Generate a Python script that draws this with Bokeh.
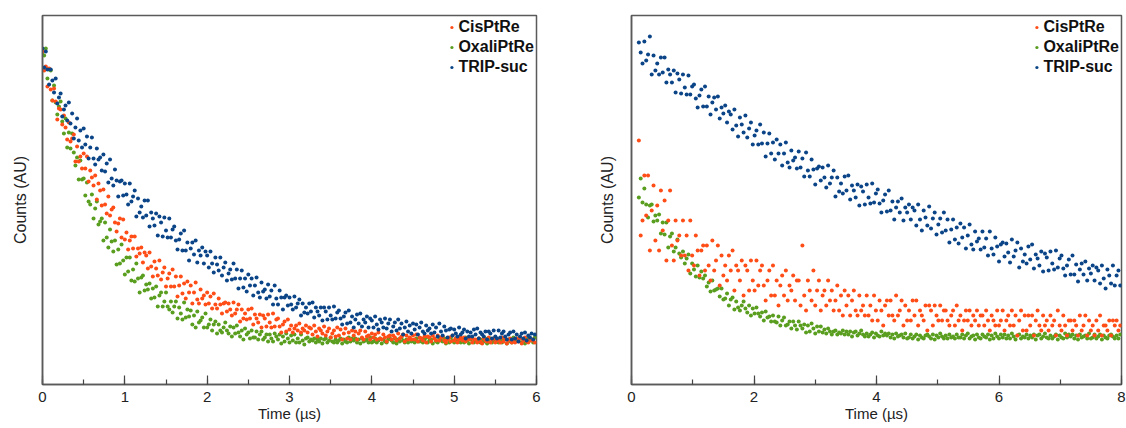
from bokeh.plotting import figure
from bokeh.layouts import row
from bokeh.models import Range1d, FixedTicker, SingleIntervalTicker, Legend, LegendItem
from bokeh.embed import file_html
from bokeh.resources import INLINE

# ------------- data: decay traces, counts in arbitrary units (baseline = 0) -------------
SERIES = ["CisPtRe", "OxaliPtRe", "TRIP-suc"]

# left panel, time (µs)
T_L = [0.00, 0.02, 0.04, 0.06, 0.08, 0.10, 0.12, 0.14, 0.16, 0.18,
       0.20, 0.22, 0.24, 0.26, 0.28, 0.30, 0.32, 0.34, 0.36, 0.38,
       0.40, 0.42, 0.44, 0.46, 0.48, 0.50, 0.52, 0.54, 0.56, 0.58,
       0.60, 0.62, 0.64, 0.66, 0.68, 0.70, 0.72, 0.74, 0.76, 0.78,
       0.80, 0.82, 0.84, 0.86, 0.88, 0.90, 0.92, 0.94, 0.96, 0.98,
       1.00, 1.02, 1.04, 1.06, 1.08, 1.10, 1.12, 1.14, 1.16, 1.18,
       1.20, 1.22, 1.24, 1.26, 1.28, 1.30, 1.32, 1.34, 1.36, 1.38,
       1.40, 1.42, 1.44, 1.46, 1.48, 1.50, 1.52, 1.54, 1.56, 1.58,
       1.60, 1.62, 1.64, 1.66, 1.68, 1.70, 1.72, 1.74, 1.76, 1.78,
       1.80, 1.82, 1.84, 1.86, 1.88, 1.90, 1.92, 1.94, 1.96, 1.98,
       2.00, 2.02, 2.04, 2.06, 2.08, 2.10, 2.12, 2.14, 2.16, 2.18,
       2.20, 2.22, 2.24, 2.26, 2.28, 2.30, 2.32, 2.34, 2.36, 2.38,
       2.40, 2.42, 2.44, 2.46, 2.48, 2.50, 2.52, 2.54, 2.56, 2.58,
       2.60, 2.62, 2.64, 2.66, 2.68, 2.70, 2.72, 2.74, 2.76, 2.78,
       2.80, 2.82, 2.84, 2.86, 2.88, 2.90, 2.92, 2.94, 2.96, 2.98,
       3.00, 3.02, 3.04, 3.06, 3.08, 3.10, 3.12, 3.14, 3.16, 3.18,
       3.20, 3.22, 3.24, 3.26, 3.28, 3.30, 3.32, 3.34, 3.36, 3.38,
       3.40, 3.42, 3.44, 3.46, 3.48, 3.50, 3.52, 3.54, 3.56, 3.58,
       3.60, 3.62, 3.64, 3.66, 3.68, 3.70, 3.72, 3.74, 3.76, 3.78,
       3.80, 3.82, 3.84, 3.86, 3.88, 3.90, 3.92, 3.94, 3.96, 3.98,
       4.00, 4.02, 4.04, 4.06, 4.08, 4.10, 4.12, 4.14, 4.16, 4.18,
       4.20, 4.22, 4.24, 4.26, 4.28, 4.30, 4.32, 4.34, 4.36, 4.38,
       4.40, 4.42, 4.44, 4.46, 4.48, 4.50, 4.52, 4.54, 4.56, 4.58,
       4.60, 4.62, 4.64, 4.66, 4.68, 4.70, 4.72, 4.74, 4.76, 4.78,
       4.80, 4.82, 4.84, 4.86, 4.88, 4.90, 4.92, 4.94, 4.96, 4.98,
       5.00, 5.02, 5.04, 5.06, 5.08, 5.10, 5.12, 5.14, 5.16, 5.18,
       5.20, 5.22, 5.24, 5.26, 5.28, 5.30, 5.32, 5.34, 5.36, 5.38,
       5.40, 5.42, 5.44, 5.46, 5.48, 5.50, 5.52, 5.54, 5.56, 5.58,
       5.60, 5.62, 5.64, 5.66, 5.68, 5.70, 5.72, 5.74, 5.76, 5.78,
       5.80, 5.82, 5.84, 5.86, 5.88, 5.90, 5.92, 5.94, 5.96, 5.98]

CIS_L = [290, 271, 275, 255, 273, 252, 241, 253, 240, 222,
         233, 232, 217, 226, 214, 202, 219, 200, 203, 207,
         180, 195, 180, 185, 173, 188, 173, 185, 160, 171,
         164, 156, 166, 142, 158, 151, 136, 152, 137, 128,
         145, 126, 132, 134, 119, 110, 118, 123, 104, 122,
         102, 109, 92, 101, 105, 93, 105, 85, 93, 88,
         94, 79, 89, 86, 73, 89, 75, 65, 80, 73,
         66, 81, 62, 69, 74, 55, 63, 68, 55, 72,
         55, 65, 45, 56, 65, 48, 58, 43, 60, 49,
         56, 38, 49, 59, 42, 38, 52, 43, 46, 37,
         49, 38, 45, 33, 48, 37, 33, 43, 37, 28,
         38, 39, 30, 38, 32, 26, 39, 28, 32, 37,
         20, 32, 23, 28, 22, 32, 23, 33, 17, 27,
         23, 19, 27, 14, 26, 23, 15, 27, 19, 14,
         28, 15, 22, 23, 15, 9, 17, 20, 10, 22,
         12, 16, 9, 13, 16, 11, 18, 9, 13, 11,
         16, 9, 14, 13, 7, 16, 10, 5, 13, 11,
         8, 15, 6, 10, 13, 4, 8, 11, 5, 14,
         6, 12, 2, 8, 13, 3, 9, 2, 11, 6,
         10, 2, 8, 11, 4, 2, 10, 5, 6, 2,
         8, 4, 7, 2, 9, 3, 2, 7, 4, 0,
         5, 6, 2, 6, 4, 1, 8, 3, 5, 7,
         0, 6, 2, 4, 2, 6, 2, 7, 0, 4,
         3, 1, 5, -1, 5, 4, 0, 6, 3, 1,
         6, 1, 4, 5, 1, -1, 2, 4, 0, 6,
         1, 3, -1, 2, 4, 1, 4, 0, 3, 2,
         3, -1, 2, 2, -1, 3, 0, -2, 3, 1,
         0, 4, -1, 2, 3, -1, 1, 2, -1, 4,
         0, 3, -2, 1, 3, -1, 2, -1, 3, 0,
         3, -2, 1, 4, 0, -1, 3, 1, 2, -1]

OXA_L = [287, 286, 293, 263, 272, 271, 241, 256, 239, 227,
         235, 240, 220, 208, 223, 194, 209, 193, 208, 189,
         176, 184, 162, 181, 162, 163, 146, 159, 140, 137,
         147, 123, 133, 140, 117, 120, 123, 101, 119, 104,
         94, 112, 100, 90, 101, 77, 92, 78, 97, 81,
         67, 84, 70, 84, 61, 72, 60, 78, 63, 49,
         64, 66, 51, 57, 52, 58, 43, 53, 44, 55,
         35, 46, 49, 35, 40, 49, 35, 32, 40, 29,
         35, 40, 23, 34, 28, 22, 39, 24, 32, 25,
         31, 17, 26, 14, 30, 19, 21, 24, 14, 28,
         14, 17, 22, 11, 17, 20, 8, 17, 11, 9,
         14, 19, 11, 8, 15, 5, 14, 8, 16, 9,
         5, 11, 2, 13, 7, 9, 3, 11, 4, 4,
         10, 2, 7, 10, 2, 4, 7, 0, 7, 3,
         0, 8, 5, 2, 7, -2, 5, 0, 8, 3,
         -1, 6, 1, 7, -1, 3, -1, 7, 1, -3,
         3, 4, 0, 2, 1, 3, -1, 2, 0, 3,
         -2, 2, 3, -1, 1, 4, 0, -1, 2, -1,
         1, 3, -2, 2, 0, -1, 4, 0, 3, 1,
         3, -1, 2, -2, 3, 0, 1, 2, -1, 4,
         -1, 0, 3, -1, 1, 3, -2, 2, 0, -1,
         2, 3, 1, -1, 3, -2, 2, 0, 4, 1,
         -1, 2, -1, 3, 0, 1, -1, 3, 0, 0,
         3, -1, 2, 4, -1, 1, 2, -2, 3, 0,
         -1, 3, 1, 0, 3, -2, 2, -1, 4, 1,
         -1, 3, 0, 3, -1, 2, -1, 4, 1, -2,
         2, 3, -1, 1, 0, 3, -1, 2, 0, 3,
         -2, 2, 3, -1, 1, 4, 0, -1, 2, -1,
         1, 3, -2, 2, 0, -1, 4, 0, 3, 1,
         3, -1, 2, -2, 3, 0, 1, 2, -1, 4]

TRIP_L = [293, 274, 290, 272, 257, 272, 261, 249, 263, 238,
          244, 248, 225, 232, 236, 221, 239, 218, 228, 203,
          214, 223, 201, 211, 194, 213, 197, 205, 183, 194,
          204, 183, 177, 193, 182, 184, 171, 187, 170, 178,
          159, 182, 163, 156, 172, 161, 145, 160, 161, 146,
          158, 147, 137, 158, 140, 145, 151, 125, 143, 129,
          135, 124, 141, 126, 141, 115, 129, 123, 116, 128,
          106, 125, 119, 105, 124, 111, 104, 123, 104, 112,
          115, 101, 92, 102, 108, 91, 111, 91, 99, 81,
          93, 99, 87, 101, 79, 91, 86, 94, 78, 90,
          86, 74, 90, 78, 69, 84, 77, 71, 84, 66,
          74, 79, 61, 68, 72, 62, 78, 63, 72, 53,
          63, 71, 54, 63, 50, 67, 56, 63, 46, 56,
          64, 49, 44, 59, 50, 52, 43, 57, 45, 51,
          37, 56, 43, 37, 51, 44, 32, 44, 46, 36,
          44, 37, 32, 45, 34, 38, 42, 26, 38, 29,
          34, 28, 38, 30, 39, 24, 34, 30, 26, 34,
          21, 34, 30, 22, 34, 26, 22, 35, 23, 29,
          31, 23, 17, 25, 29, 18, 31, 19, 25, 14,
          22, 27, 18, 28, 15, 22, 19, 25, 14, 23,
          21, 14, 25, 17, 12, 22, 19, 14, 23, 13,
          18, 22, 10, 15, 19, 11, 22, 13, 18, 7,
          14, 20, 10, 16, 8, 18, 12, 17, 7, 14,
          19, 10, 8, 16, 11, 13, 8, 17, 9, 14,
          5, 18, 10, 6, 15, 11, 4, 12, 13, 6,
          12, 8, 5, 14, 7, 9, 12, 3, 10, 5,
          9, 5, 12, 7, 13, 3, 9, 7, 5, 10,
          2, 10, 8, 3, 11, 5, 3, 11, 4, 8,
          10, 5, 2, 7, 9, 2, 10, 3, 7, 0,
          5, 8, 3, 9, 1, 6, 4, 8, 2, 7]

# right panel, time (µs)
T_R = [0.12, 0.15, 0.18, 0.21, 0.24, 0.27, 0.30, 0.33, 0.36, 0.39,
       0.42, 0.45, 0.48, 0.51, 0.54, 0.57, 0.60, 0.63, 0.66, 0.69,
       0.72, 0.75, 0.78, 0.81, 0.84, 0.87, 0.90, 0.93, 0.96, 0.99,
       1.02, 1.05, 1.08, 1.11, 1.14, 1.17, 1.20, 1.23, 1.26, 1.29,
       1.32, 1.35, 1.38, 1.41, 1.44, 1.47, 1.50, 1.53, 1.56, 1.59,
       1.62, 1.65, 1.68, 1.71, 1.74, 1.77, 1.80, 1.83, 1.86, 1.89,
       1.92, 1.95, 1.98, 2.01, 2.04, 2.07, 2.10, 2.13, 2.16, 2.19,
       2.22, 2.25, 2.28, 2.31, 2.34, 2.37, 2.40, 2.43, 2.46, 2.49,
       2.52, 2.55, 2.58, 2.61, 2.64, 2.67, 2.70, 2.73, 2.76, 2.79,
       2.82, 2.85, 2.88, 2.91, 2.94, 2.97, 3.00, 3.03, 3.06, 3.09,
       3.12, 3.15, 3.18, 3.21, 3.24, 3.27, 3.30, 3.33, 3.36, 3.39,
       3.42, 3.45, 3.48, 3.51, 3.54, 3.57, 3.60, 3.63, 3.66, 3.69,
       3.72, 3.75, 3.78, 3.81, 3.84, 3.87, 3.90, 3.93, 3.96, 3.99,
       4.02, 4.05, 4.08, 4.11, 4.14, 4.17, 4.20, 4.23, 4.26, 4.29,
       4.32, 4.35, 4.38, 4.41, 4.44, 4.47, 4.50, 4.53, 4.56, 4.59,
       4.62, 4.65, 4.68, 4.71, 4.74, 4.77, 4.80, 4.83, 4.86, 4.89,
       4.92, 4.95, 4.98, 5.01, 5.04, 5.07, 5.10, 5.13, 5.16, 5.19,
       5.22, 5.25, 5.28, 5.31, 5.34, 5.37, 5.40, 5.43, 5.46, 5.49,
       5.52, 5.55, 5.58, 5.61, 5.64, 5.67, 5.70, 5.73, 5.76, 5.79,
       5.82, 5.85, 5.88, 5.91, 5.94, 5.97, 6.00, 6.03, 6.06, 6.09,
       6.12, 6.15, 6.18, 6.21, 6.24, 6.27, 6.30, 6.33, 6.36, 6.39,
       6.42, 6.45, 6.48, 6.51, 6.54, 6.57, 6.60, 6.63, 6.66, 6.69,
       6.72, 6.75, 6.78, 6.81, 6.84, 6.87, 6.90, 6.93, 6.96, 6.99,
       7.02, 7.05, 7.08, 7.11, 7.14, 7.17, 7.20, 7.23, 7.26, 7.29,
       7.32, 7.35, 7.38, 7.41, 7.44, 7.47, 7.50, 7.53, 7.56, 7.59,
       7.62, 7.65, 7.68, 7.71, 7.74, 7.77, 7.80, 7.83, 7.86, 7.89,
       7.92, 7.95, 7.98]

CIS_R = [196, 101, 116, 161, 121, 161, 86, 126, 151, 96,
         131, 86, 146, 106, 136, 76, 116, 146, 91, 76,
         116, 96, 101, 81, 116, 81, 101, 66, 116, 81,
         71, 101, 86, 61, 86, 91, 66, 91, 71, 56,
         96, 66, 76, 91, 51, 81, 61, 71, 56, 81,
         66, 86, 46, 71, 66, 56, 76, 41, 71, 66,
         46, 76, 56, 46, 76, 51, 66, 71, 51, 36,
         56, 66, 41, 71, 41, 56, 31, 51, 61, 41,
         66, 36, 51, 46, 61, 36, 56, 56, 31, 91,
         41, 26, 56, 46, 36, 66, 31, 46, 56, 26,
         41, 46, 31, 56, 36, 46, 26, 36, 51, 26,
         41, 21, 46, 31, 41, 21, 36, 46, 26, 21,
         41, 26, 31, 21, 41, 21, 31, 16, 41, 26,
         16, 36, 26, 11, 31, 36, 21, 36, 21, 16,
         41, 21, 26, 36, 11, 31, 16, 26, 16, 36,
         21, 36, 11, 26, 21, 16, 31, 6, 31, 26,
         11, 31, 21, 16, 31, 16, 26, 26, 16, 11,
         21, 26, 11, 31, 16, 21, 6, 16, 26, 16,
         26, 11, 21, 16, 26, 11, 21, 21, 11, 26,
         16, 6, 21, 16, 11, 26, 11, 16, 26, 6,
         16, 21, 11, 26, 11, 21, 1, 16, 26, 6,
         21, 6, 21, 11, 21, 1, 16, 26, 11, 6,
         21, 11, 16, 6, 21, 11, 16, 1, 26, 11,
         6, 21, 11, 1, 16, 16, 6, 16, 11, 1,
         21, 6, 11, 21, 1, 16, 6, 11, 1, 16,
         6, 21, 1, 11, 11, 6, 16, 1, 16, 11,
         16, 6, 11]

OXA_R = [139, 158, 134, 148, 132, 119, 131, 132, 115, 121,
         116, 122, 103, 114, 102, 114, 89, 100, 103, 85,
         89, 97, 83, 79, 85, 73, 78, 82, 63, 73,
         67, 60, 71, 59, 65, 58, 61, 50, 54, 45,
         56, 46, 47, 48, 40, 48, 37, 38, 43, 31,
         37, 39, 27, 35, 29, 26, 31, 35, 28, 24,
         31, 21, 28, 23, 29, 23, 20, 24, 16, 25,
         19, 20, 15, 21, 15, 14, 20, 11, 16, 19,
         11, 12, 15, 8, 15, 11, 7, 15, 11, 8,
         12, 4, 11, 5, 13, 8, 3, 10, 5, 10,
         4, 7, 3, 8, 5, 2, 5, 6, 2, 4,
         3, 6, 2, 5, 2, 5, 0, 4, 5, 1,
         3, 6, 2, 0, 3, 0, 2, 4, -1, 3,
         1, 0, 5, 1, 3, 1, 3, -1, 2, -2,
         3, 0, 1, 2, -1, 3, -2, -1, 2, -2,
         0, 2, -3, 1, -1, -2, 1, 2, 0, -2,
         2, -3, 1, -1, 3, 0, -2, 1, -2, 2,
         -1, 0, -2, 2, -1, -1, 2, -2, 1, 3,
         -2, 0, 1, -3, 2, -1, -2, 2, 0, -1,
         2, -3, 1, -2, 3, 0, -2, 2, -1, 2,
         -2, 1, -2, 3, 0, -3, 1, 2, -2, 0,
         -1, 2, -2, 1, -1, 2, -3, 1, 2, -2,
         0, 3, -1, -2, 1, -2, 0, 2, -3, 1,
         -1, -2, 3, -1, 2, 0, 2, -2, 1, -3,
         2, -1, 0, 1, -2, 3, -2, -1, 2, -2,
         0, 2, -3, 1, -1, -2, 1, 2, 0, -2,
         1, -2, 2]

TRIP_R = [294, 284, 273, 295, 276, 282, 300, 262, 281, 266,
          273, 262, 279, 264, 279, 254, 267, 262, 254, 266,
          244, 263, 257, 243, 262, 249, 242, 261, 242, 250,
          252, 238, 229, 241, 247, 230, 250, 230, 240, 222,
          234, 239, 227, 240, 218, 229, 223, 231, 214, 225,
          222, 207, 227, 211, 200, 219, 212, 204, 221, 199,
          208, 214, 192, 201, 206, 192, 212, 193, 204, 180,
          193, 203, 183, 194, 177, 197, 183, 192, 171, 183,
          194, 174, 169, 186, 176, 179, 168, 185, 169, 178,
          160, 184, 166, 160, 177, 167, 152, 168, 170, 156,
          169, 159, 149, 171, 153, 159, 166, 140, 159, 145,
          153, 143, 160, 146, 161, 137, 151, 146, 139, 152,
          131, 150, 145, 132, 152, 139, 133, 153, 134, 143,
          147, 133, 124, 136, 142, 125, 146, 126, 135, 117,
          129, 135, 124, 138, 116, 129, 124, 132, 117, 129,
          126, 111, 132, 117, 106, 126, 119, 111, 130, 108,
          118, 124, 102, 112, 118, 104, 124, 106, 117, 94,
          107, 117, 97, 109, 93, 113, 99, 109, 88, 101,
          112, 92, 87, 105, 95, 98, 87, 105, 89, 98,
          81, 105, 88, 82, 99, 90, 75, 92, 94, 80,
          93, 84, 74, 97, 80, 86, 94, 69, 88, 75,
          82, 73, 90, 77, 92, 68, 82, 78, 71, 85,
          65, 83, 79, 66, 85, 73, 67, 86, 69, 78,
          81, 68, 61, 71, 77, 62, 81, 62, 72, 55,
          67, 73, 62, 75, 56, 68, 63, 71, 56, 69,
          66, 53, 71, 58, 48, 67, 61, 53, 71, 51,
          61, 66, 51]

COLORS = {"CisPtRe": "#ff4d17", "OxaliPtRe": "#5a9e20", "TRIP-suc": "#0b4587"}
FONT = "Liberation Sans"


def make_panel(t, values, xmax, xstep, ylo, yhi, width, bl, br, ylab_standoff):
    p = figure(width=width, height=428,
               x_range=Range1d(0, xmax), y_range=Range1d(ylo, yhi),
               output_backend="svg", toolbar_location=None,
               min_border_left=bl, min_border_right=br,
               min_border_top=15, min_border_bottom=44)
    p.grid.visible = False
    p.outline_line_color = "#5a5a5a"
    p.outline_line_width = 1.5
    p.background_fill_color = "white"
    p.border_fill_color = "white"

    renderers = {}
    for name in ["OxaliPtRe", "CisPtRe", "TRIP-suc"]:
        renderers[name] = p.scatter(t, values[name], size=4, marker="circle",
                                    fill_color=COLORS[name], line_color=None)

    legend = Legend(items=[LegendItem(label=n, renderers=[renderers[n]]) for n in SERIES],
                    location="top_right")
    legend.border_line_color = None
    legend.background_fill_alpha = 0
    legend.label_text_font = FONT
    legend.label_text_font_style = "bold"
    legend.label_text_font_size = "16px"
    legend.label_text_color = "#111111"
    legend.glyph_width = 8
    legend.glyph_height = 20
    legend.label_height = 20
    legend.label_standoff = 3
    legend.spacing = 0
    legend.padding = 4
    legend.margin = 2
    p.add_layout(legend)

    xa = p.xaxis[0]
    xa.ticker = SingleIntervalTicker(interval=xstep, num_minor_ticks=2)
    xa.axis_label = "Time (µs)"
    xa.axis_label_text_font = FONT
    xa.axis_label_text_font_style = "normal"
    xa.axis_label_text_font_size = "15px"
    xa.axis_label_text_color = "#222222"
    xa.axis_label_standoff = 0
    xa.major_label_standoff = 7
    xa.major_label_text_font = FONT
    xa.major_label_text_font_size = "15px"
    xa.major_label_text_color = "#222222"
    xa.major_tick_in = 9
    xa.major_tick_out = 0
    xa.minor_tick_in = 5
    xa.minor_tick_out = 0
    xa.axis_line_color = "#5a5a5a"
    xa.axis_line_width = 1.5
    xa.major_tick_line_color = "#444444"
    xa.minor_tick_line_color = "#444444"
    xa.major_tick_line_width = 1.2
    xa.minor_tick_line_width = 1.2

    ya = p.yaxis[0]
    ya.ticker = FixedTicker(ticks=[])
    ya.axis_label = "Counts (AU)"
    ya.axis_label_text_font = FONT
    ya.axis_label_text_font_style = "normal"
    ya.axis_label_text_font_size = "16px"
    ya.axis_label_text_color = "#222222"
    ya.axis_label_standoff = ylab_standoff
    ya.axis_line_color = "#5a5a5a"
    ya.axis_line_width = 1.5
    ya.major_tick_out = 0
    ya.minor_tick_out = 0
    return p


left = make_panel(T_L, {"CisPtRe": CIS_L, "OxaliPtRe": OXA_L, "TRIP-suc": TRIP_L},
                  6, 1, -43, 326, 560, 42, 24, 14)
right = make_panel(T_R, {"CisPtRe": CIS_R, "OxaliPtRe": OXA_R, "TRIP-suc": TRIP_R},
                   8, 2, -48, 321, 566, 71, 5, 16)

layout = row(left, right)
open("out.html", "w").write(file_html(layout, INLINE))
